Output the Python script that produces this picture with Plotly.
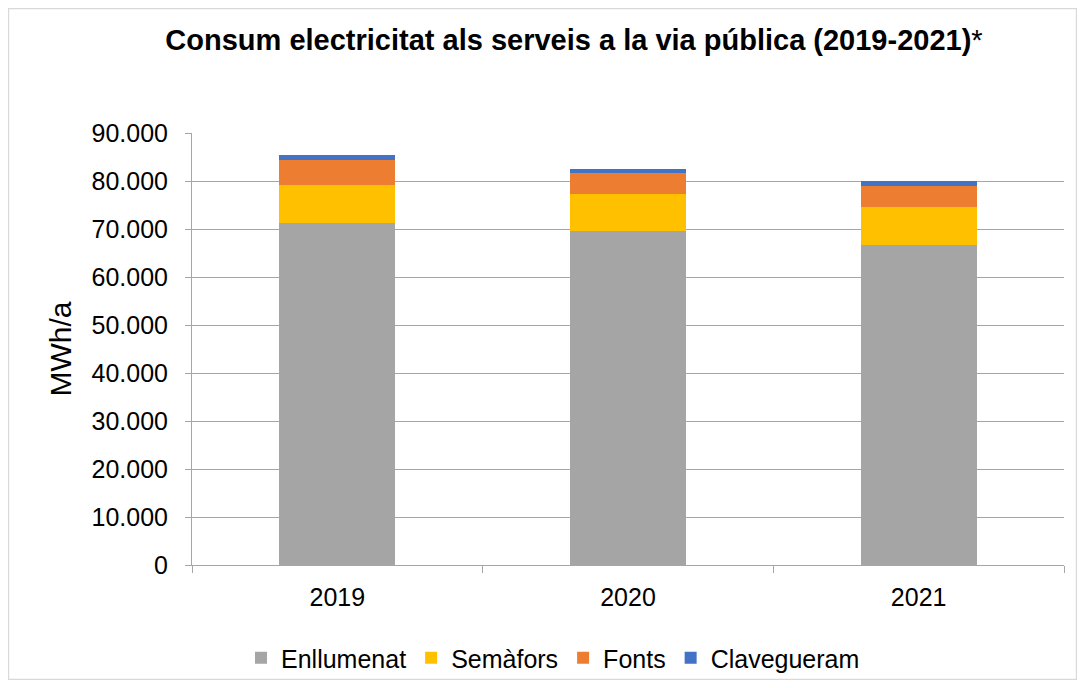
import plotly.graph_objects as go

years = ['2019', '2020', '2021']
enllumenat = [71300, 69500, 66700]
semafors = [7900, 7800, 7800]
fonts = [5200, 4300, 4500]
clavegueram = [950, 900, 900]

series = [
    ('Enllumenat', enllumenat, '#A5A5A5'),
    ('Semàfors', semafors, '#FFC000'),
    ('Fonts', fonts, '#ED7D31'),
    ('Clavegueram', clavegueram, '#4472C4'),
]

fig = go.Figure()
for name, vals, color in series:
    fig.add_trace(go.Bar(x=years, y=vals, name=name, marker_color=color,
                         marker_line_width=0))

# page has an 8px body margin, so the figure itself is the bordered box
W, H = 1069, 672
L, R, T, B = 184, 13, 125, 115
pw, ph = W - L - R, H - T - B

fig.update_layout(
    width=W, height=H,
    barmode='stack',
    bargap=0.6,
    separators=',.',
    font=dict(family='Liberation Sans, Arial', size=25, color='black'),
    title=dict(text='<b>Consum electricitat als serveis a la via pública (2019-2021)</b>*',
               x=566 / W, xanchor='center', y=1 - 32 / H, yanchor='middle',
               font=dict(size=29)),
    margin=dict(l=L, r=R, t=T, b=B, autoexpand=False),
    plot_bgcolor='white', paper_bgcolor='white',
    legend=dict(orientation='h', x=(545 - L) / pw, xanchor='center',
                y=-(650 - 557) / ph, yanchor='middle', bgcolor='rgba(0,0,0,0)',
                font=dict(size=25), traceorder='normal'),
    shapes=[dict(type='rect', xref='paper', yref='paper',
                 x0=-L / pw + 0.0005, x1=(W - L) / pw - 0.0005,
                 y0=-B / ph + 0.001, y1=(H - B) / ph - 0.001,
                 line=dict(color='#D9D9D9', width=1.5))],
)
fig.update_yaxes(range=[0, 90000], dtick=10000, tickformat=',d',
                 showgrid=True, gridcolor='#A6A6A6', gridwidth=1,
                 zeroline=False, showline=True, linecolor='#A6A6A6',
                 ticks='outside', ticklen=6, tickcolor='#A6A6A6',
                 ticklabelstandoff=12,
                 title=dict(text='MWh/a', standoff=11))
fig.update_xaxes(showline=True, linecolor='#A6A6A6', linewidth=1,
                 ticks='outside', tickson='boundaries', ticklen=7,
                 tickcolor='#A6A6A6', ticklabelstandoff=10)

fig.write_html('out.html')
